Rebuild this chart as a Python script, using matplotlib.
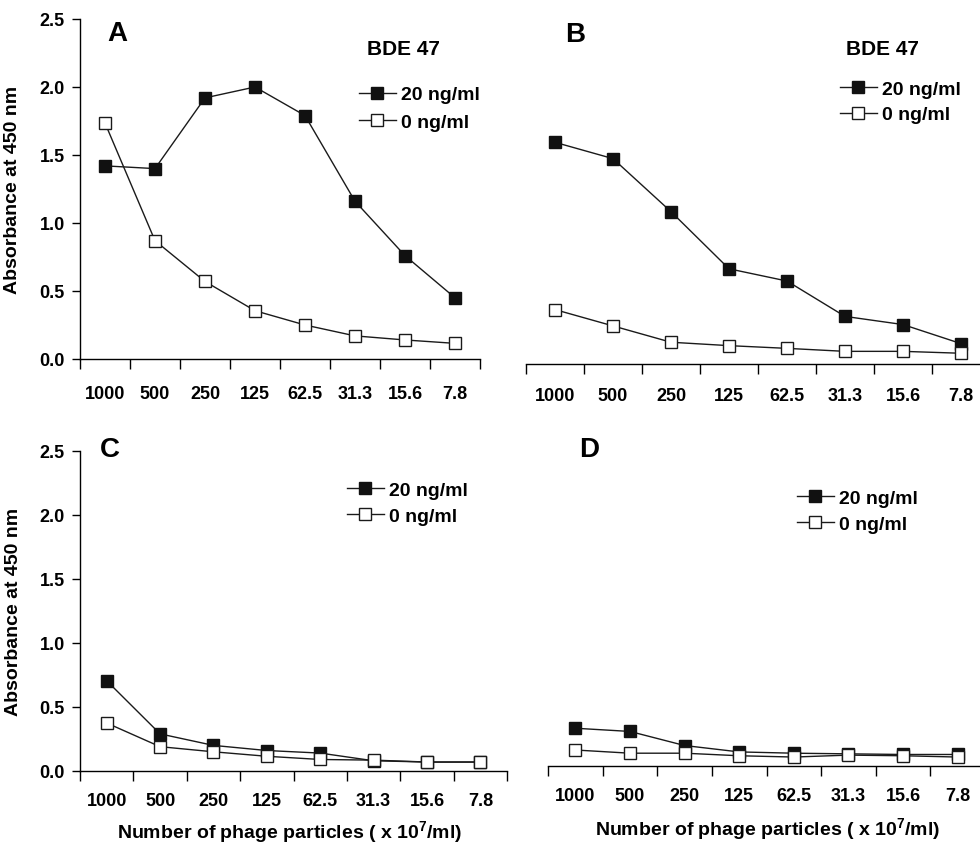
import numpy as np
import matplotlib
matplotlib.use("Agg")
import matplotlib.pyplot as plt
from matplotlib.lines import Line2D

plt.rcParams['font.family'] = ['Liberation Sans', 'DejaVu Sans']
plt.rcParams['font.weight'] = 'bold'
plt.rcParams['mathtext.fontset'] = 'custom'
plt.rcParams['mathtext.bf'] = 'Liberation Sans:bold'
plt.rcParams['mathtext.rm'] = 'Liberation Sans:bold'
plt.rcParams['mathtext.default'] = 'bf'

# ---------------- data ----------------
categories = ["1000", "500", "250", "125", "62.5", "31.3", "15.6", "7.8"]
yticks = [0.0, 0.5, 1.0, 1.5, 2.0, 2.5]
series_labels = ["20 ng/ml", "0 ng/ml"]

A_20 = [1.42, 1.40, 1.92, 2.00, 1.79, 1.16, 0.76, 0.45]
A_0 = [1.735, 0.87, 0.57, 0.355, 0.25, 0.17, 0.14, 0.115]

B_20 = [1.63, 1.51, 1.12, 0.70, 0.61, 0.35, 0.29, 0.15]
B_0 = [0.40, 0.28, 0.16, 0.135, 0.115, 0.093, 0.093, 0.079]

C_20 = [0.705, 0.29, 0.20, 0.16, 0.14, 0.08, 0.07, 0.07]
C_0 = [0.375, 0.19, 0.15, 0.115, 0.09, 0.085, 0.07, 0.07]

D_20 = [0.295, 0.27, 0.16, 0.11, 0.10, 0.095, 0.09, 0.09]
D_0 = [0.125, 0.10, 0.10, 0.08, 0.07, 0.085, 0.08, 0.07]

panel_letters = ["A", "B", "C", "D"]
compound = "BDE 47"
ylabel_text = "Absorbance at 450 nm"
xlabel_text = "Number of phage particles ( x 10$^{7}$/ml)"

# ---------------- layout ----------------
W, H = 980, 845
fig = plt.figure(figsize=(W / 100, H / 100), dpi=100)


def rect(x0, x1, ybot, ytop):
    return [x0 / W, (H - ybot) / H, (x1 - x0) / W, (ybot - ytop) / H]


axA = fig.add_axes(rect(80, 480, 360, 20))
axB = fig.add_axes(rect(526, 990, 365, 25))
axC = fig.add_axes(rect(80, 507, 772, 452))
axD = fig.add_axes(rect(548, 985, 767, 447))

x = np.arange(len(categories))
LINE_C = '#1a1a1a'
FILL_C = '#111111'


def draw(ax, s20, s0, show_y, pad):
    ax.plot(x, s20, '-', color=LINE_C, lw=1.0, marker='s', ms=9,
            mfc=FILL_C, mec=FILL_C, mew=1.0, clip_on=False, zorder=3)
    ax.plot(x, s0, '-', color=LINE_C, lw=1.0, marker='s', ms=9,
            mfc='white', mec=LINE_C, mew=1.0, clip_on=False, zorder=4)
    ax.set_xlim(-0.5, len(categories) - 0.5)
    ax.set_ylim(0, 2.5)
    for s in ['top', 'right']:
        ax.spines[s].set_visible(False)
    ax.spines['bottom'].set_linewidth(1.0)
    ax.set_xticks(np.arange(-0.5, len(categories), 1.0))
    ax.set_xticklabels([])
    ax.set_xticks(x, minor=True)
    ax.set_xticklabels(categories, minor=True, fontsize=13, fontweight='bold')
    ax.tick_params(axis='x', which='major', direction='out', length=7, width=1.0)
    ax.tick_params(axis='x', which='minor', length=0, pad=pad)
    if show_y:
        ax.spines['left'].set_linewidth(1.0)
        ax.set_yticks(yticks)
        ax.set_yticklabels([f"{v:.1f}" for v in yticks], fontsize=13, fontweight='bold')
        ax.tick_params(axis='y', direction='out', length=6, width=1.0, pad=5)
    else:
        ax.spines['left'].set_visible(False)
        ax.set_yticks([])


draw(axA, A_20, A_0, True, 18.5)
draw(axB, B_20, B_0, False, 16.5)
draw(axC, C_20, C_0, True, 15)
draw(axD, D_20, D_0, False, 15)

# y labels
for ax, xc in [(axA, -0.1475), (axC, -0.136)]:
    ax.set_ylabel(ylabel_text, fontsize=14, fontweight='bold')
    ax.yaxis.set_label_coords(xc, 0.5)

# x labels
for ax, xc, yc in [(axC, 0.49, -0.148), (axD, 0.503, -0.155)]:
    ax.set_xlabel(xlabel_text, fontsize=14, fontweight='bold')
    ax.xaxis.set_label_coords(xc, yc)

# panel letters
for letter, (px, py) in zip(panel_letters, [(107, 41), (565, 42), (100, 457), (579, 457)]):
    fig.text(px / W, 1 - py / H, letter, fontsize=20, fontweight='bold',
             ha='left', va='baseline')

for px, py in [(367, 55), (846, 55)]:
    fig.text(px / W, 1 - py / H, compound, fontsize=15, fontweight='bold',
             ha='left', va='baseline')

# legends
handles = [
    Line2D([], [], color=LINE_C, lw=1.0, marker='s', ms=9, mfc=FILL_C, mec=FILL_C),
    Line2D([], [], color=LINE_C, lw=1.0, marker='s', ms=9, mfc='white', mec=LINE_C),
]
for ax, (lx, ly), sp in [(axA, (359, 109.5), 0.52), (axB, (840, 103), 0.4),
                         (axC, (347, 504), 0.4), (axD, (797, 512), 0.4)]:
    leg = ax.legend(handles, series_labels, loc='center left',
                    bbox_to_anchor=(lx / W, 1 - ly / H), bbox_transform=fig.transFigure,
                    frameon=False, fontsize=14, handlelength=1.9, handletextpad=0.25,
                    labelspacing=sp, borderpad=0, borderaxespad=0)
    for t in leg.get_texts():
        t.set_fontweight('bold')

fig.savefig("out.png", dpi=100)
